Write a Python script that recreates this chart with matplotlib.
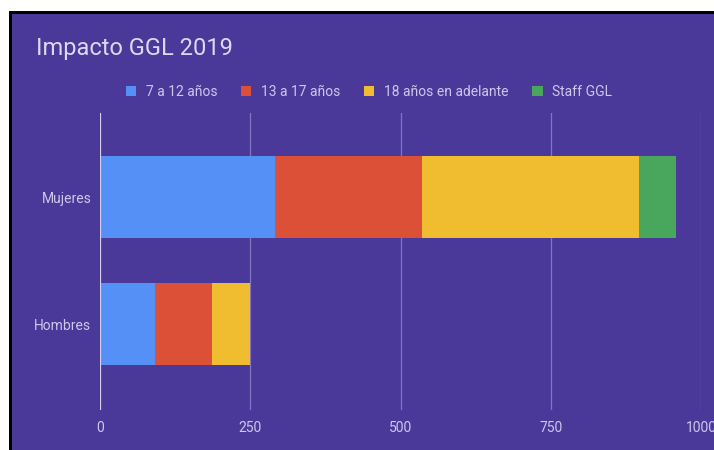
import matplotlib
matplotlib.use("Agg")
import matplotlib.pyplot as plt
from matplotlib.patches import Rectangle
import numpy as np

categories = ["Hombres", "Mujeres"]
series_names = ["7 a 12 años", "13 a 17 años", "18 años en adelante", "Staff GGL"]
values_7_12 = [91, 291]
values_13_17 = [96, 245]
values_18_plus = [63, 361]
values_staff = [0, 60]
series_values = [values_7_12, values_13_17, values_18_plus, values_staff]
colors = ["#5590f7", "#dc5038", "#f0bd30", "#48a75c"]
xticks = [0, 250, 500, 750, 1000]
title = "Impacto GGL 2019"

W, H = 714, 450
bg = "#4a3998"
txt = "#cdc7ec"

fig = plt.figure(figsize=(W / 100, H / 100), dpi=100)
fig.patch.set_facecolor("white")
# black frame and purple panel
fig.add_artist(Rectangle((9 / W, 0), 1 - 9 / W, 1 - 11 / H, transform=fig.transFigure,
                         facecolor="black", edgecolor="none", zorder=-3))
fig.add_artist(Rectangle((12 / W, 0), 1 - 12 / W, 1 - 14 / H, transform=fig.transFigure,
                         facecolor=bg, edgecolor="none", zorder=-2))

left = 99.8 / W
right = 701.4 / W
bottom = 1 - 410 / H
top = 1 - 113 / H
ax = fig.add_axes([left, bottom, right - left, top - bottom])
ax.set_facecolor("none")

y = np.arange(len(categories))
cum = np.zeros(len(categories))
for name, vals, c in zip(series_names, series_values, colors):
    vals = np.array(vals, dtype=float)
    ax.barh(y, vals, left=cum, height=0.65, color=c, label=name, zorder=3)
    cum += vals

ax.set_xlim(0, 1000)
ax.set_ylim(-0.677, 1.662)
ax.set_xticks(xticks)
ax.set_xticklabels([str(t) for t in xticks])
ax.set_yticks(y)
ax.set_yticklabels(categories)
for s in ax.spines.values():
    s.set_visible(False)
ax.tick_params(axis="both", length=0, colors=txt, labelsize=10)
ax.tick_params(axis="x", pad=8)
ax.tick_params(axis="y", pad=6)
for lab in ax.get_xticklabels() + ax.get_yticklabels():
    lab.set_fontfamily("Roboto")
    lab.set_color(txt)
for t in xticks[1:]:
    ax.axvline(t, color="#8275c4", lw=0.9, zorder=1)
ax.axvline(0, color="#d4cff0", lw=1.6, zorder=4)

fig.text(36 / W, 1 - 48 / H, title, fontsize=17, color="#dcd7f2", fontfamily="Roboto",
         ha="left", va="center")

leg = fig.legend(*ax.get_legend_handles_labels(), loc="center",
                 bbox_to_anchor=(369 / W, 1 - 92 / H), ncol=4, frameon=False,
                 handlelength=0.75, handleheight=0.75, handletextpad=0.7,
                 columnspacing=1.7, prop={"family": "Roboto", "size": 10})
for t in leg.get_texts():
    t.set_color(txt)

fig.savefig("out.png", dpi=100, facecolor=fig.get_facecolor())
